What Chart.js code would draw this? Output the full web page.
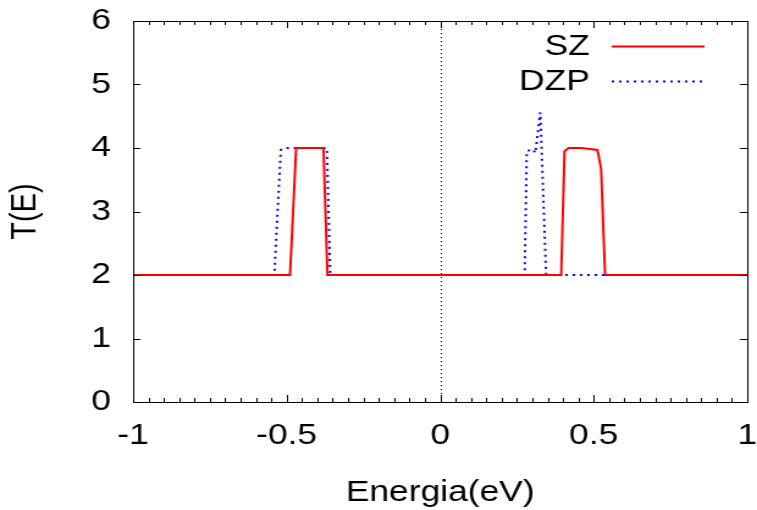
<!DOCTYPE html>
<html>
<head>
<meta charset="utf-8">
<script src="https://cdn.jsdelivr.net/npm/chart.js@4.4.1/dist/chart.umd.min.js"></script>
<style>
  html, body { margin: 0; padding: 0; background: #fff; overflow: hidden; }
  #wrap { width: 620px; height: 510px; transform: scaleX(1.221); transform-origin: 0 0; }
</style>
</head>
<body>
<div id="wrap"><canvas id="grafico" width="620" height="510"></canvas></div>
<script>
// datos
const szX  = [-1, -0.489, -0.469, -0.380, -0.367, 0.394, 0.405, 0.418, 0.46, 0.512, 0.524, 0.537, 1];
const szY  = [ 2,  2,      4,      4,      2,      2,     3.95,  4.0,   4.0,  3.97,  3.67,  2,     2];
const dzpX = [-1, -0.540, -0.519, -0.505, -0.369, -0.358, 0.275, 0.282, 0.302, 0.31, 0.326, 0.345, 1];
const dzpY = [ 2,  2,      3.97,   4.0,    4.0,    2,      2,     3.95,  3.98,  3.92, 4.56,  2,     2];
const seriesNames = ["SZ", "DZP"];
const xTicks = [-1, -0.5, 0, 0.5, 1];
const yTicks = [0, 1, 2, 3, 4, 5, 6];

const FONT = "'Liberation Sans', Arial, sans-serif";

function toPoints(xs, ys) {
    return xs.map((x, i) => ({ x: x, y: ys[i] }));
}

// quitar el relleno automatico de las etiquetas para fijar el area
function noOverhang(s) {
    s.paddingLeft = 0; s.paddingRight = 0;
    s.paddingTop = 0; s.paddingBottom = 0;
}

// marco, marcas internas, eje cero y leyenda estilo gnuplot
const gnuplotStyle = {
    id: 'gnuplotStyle',
    beforeDatasetsDraw(chart) {
        const ctx = chart.ctx, a = chart.chartArea, sx = chart.scales.x;
        const x0 = sx.getPixelForValue(0);
        ctx.save();
        ctx.strokeStyle = '#000';
        ctx.lineWidth = 1;
        ctx.setLineDash([1, 3]);
        ctx.beginPath();
        ctx.moveTo(Math.round(x0) + 0.5, a.top);
        ctx.lineTo(Math.round(x0) + 0.5, a.bottom);
        ctx.stroke();
        ctx.restore();
    },
    afterDraw(chart) {
        const ctx = chart.ctx, a = chart.chartArea;
        const sx = chart.scales.x, sy = chart.scales.y;
        ctx.save();
        ctx.strokeStyle = '#000';
        ctx.lineWidth = 1;
        ctx.setLineDash([]);
        ctx.strokeRect(Math.round(a.left) + 0.5, Math.round(a.top) + 0.5,
                       Math.round(a.right - a.left), Math.round(a.bottom - a.top));
        ctx.beginPath();
        for (let k = -20; k <= 20; k++) {
            const px = Math.round(sx.getPixelForValue(k * 0.05)) + 0.5;
            const len = (k % 10 === 0) ? 7 : 4;
            ctx.moveTo(px, a.bottom); ctx.lineTo(px, a.bottom - len);
            ctx.moveTo(px, a.top); ctx.lineTo(px, a.top + len);
        }
        yTicks.forEach(v => {
            const py = Math.round(sy.getPixelForValue(v)) + 0.5;
            ctx.moveTo(a.left, py); ctx.lineTo(a.left + 6, py);
            ctx.moveTo(a.right, py); ctx.lineTo(a.right - 6, py);
        });
        ctx.stroke();

        // leyenda
        ctx.font = '29px ' + FONT;
        ctx.fillStyle = '#000';
        ctx.textAlign = 'right';
        ctx.textBaseline = 'middle';
        const rows = [46, 81];
        chart.data.datasets.forEach((ds, i) => {
            const y = rows[i];
            ctx.fillText(ds.label, 483, y + 1);
            ctx.strokeStyle = ds.borderColor;
            ctx.lineWidth = ds.borderWidth;
            ctx.setLineDash(ds.borderDash || []);
            ctx.beginPath();
            ctx.moveTo(501, y + 0.5);
            ctx.lineTo(577, y + 0.5);
            ctx.stroke();
        });
        ctx.restore();
    }
};

new Chart(document.getElementById('grafico'), {
    type: 'scatter',
    data: {
        datasets: [
            { label: seriesNames[0], data: toPoints(szX, szY), showLine: true,
              borderColor: '#ff0000', borderWidth: 2, pointRadius: 0, fill: false, tension: 0 },
            { label: seriesNames[1], data: toPoints(dzpX, dzpY), showLine: true,
              borderColor: '#0000ff', borderWidth: 2, borderDash: [2, 4], pointRadius: 0, fill: false, tension: 0 }
        ]
    },
    options: {
        responsive: false,
        animation: false,
        layout: { padding: { top: 21, right: 8, left: 0, bottom: 0 } },
        plugins: { legend: { display: false }, tooltip: { enabled: false } },
        scales: {
            x: {
                type: 'linear', min: -1, max: 1,
                afterBuildTicks: s => { s.ticks = xTicks.map(v => ({ value: v })); },
                afterFit: s => { s.height = 108; noOverhang(s); },
                grid: { display: false, drawTicks: false },
                border: { display: false },
                ticks: { color: '#000', padding: 17, font: { family: FONT, size: 29 },
                         callback: v => String(v) },
                title: { display: true, text: 'Energia(eV)', color: '#000',
                         font: { family: FONT, size: 29 }, padding: { top: 6, bottom: 0 } }
            },
            y: {
                min: 0, max: 6,
                afterBuildTicks: s => { s.ticks = yTicks.map(v => ({ value: v })); },
                afterFit: s => { s.width = 109; noOverhang(s); },
                grid: { display: false, drawTicks: false },
                border: { display: false },
                ticks: { color: '#000', padding: 18, font: { family: FONT, size: 29 } },
                title: { display: true, text: 'T(E)', color: '#000',
                         font: { family: FONT, size: 29 }, padding: { top: 4, bottom: 0 } }
            }
        }
    },
    plugins: [gnuplotStyle]
});
</script>
</body>
</html>
